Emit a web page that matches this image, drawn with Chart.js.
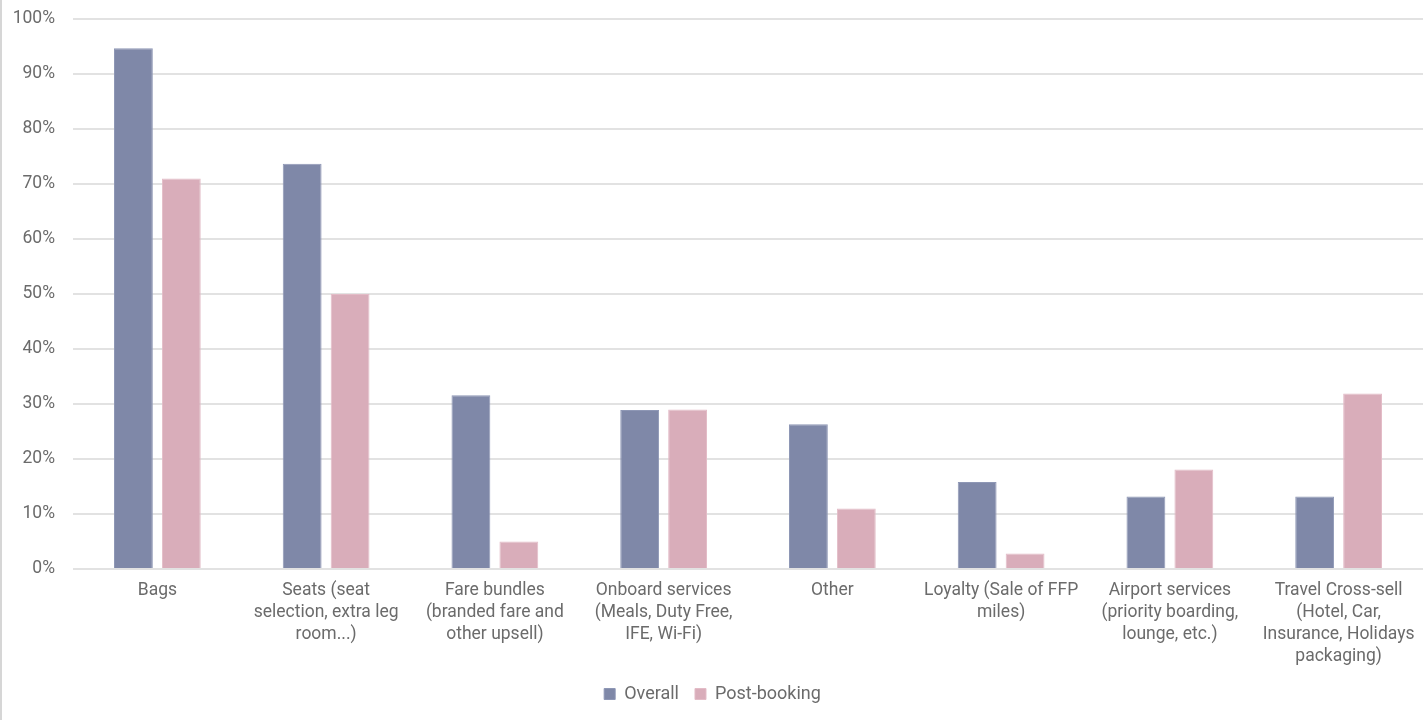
<!DOCTYPE html>
<html>
<head>
<meta charset="utf-8">
<title>Ancillary products</title>
<script src="https://cdn.jsdelivr.net/npm/chart.js@4/dist/chart.umd.min.js"></script>
<style>
  html, body { margin: 0; padding: 0; background: #fff; }
  #wrap { width: 1421px; height: 720px; border-left: 2px solid #d6d6d6; }
</style>
</head>
<body>
<div id="wrap"><canvas id="chart" width="1421" height="720"></canvas></div>
<script>
var categories = [
    ["Bags"],
    ["Seats (seat", "selection, extra leg", "room...)"],
    ["Fare bundles", "(branded fare and", "other upsell)"],
    ["Onboard services", "(Meals, Duty Free,", "IFE, Wi-Fi)"],
    ["Other"],
    ["Loyalty (Sale of FFP", "miles)"],
    ["Airport services", "(priority boarding,", "lounge, etc.)"],
    ["Travel Cross-sell", "(Hotel, Car,", "Insurance, Holidays", "packaging)"]
];
var overall = [94.7, 73.7, 31.6, 28.9, 26.3, 15.8, 13.2, 13.2];
var postBooking = [71.0, 50.0, 5.0, 29.0, 11.0, 2.8, 18.1, 31.9];
var yTicks = [0, 10, 20, 30, 40, 50, 60, 70, 80, 90, 100];

var textColor = "#6b6b6b";
var font = "Roboto, 'Noto Sans', sans-serif";

var ctx = document.getElementById("chart");
var chart = new Chart(ctx, {
    type: "bar",
    data: {
        labels: categories,
        datasets: [
            {
                label: "Overall",
                data: overall,
                backgroundColor: "#7f88a8",
                borderColor: "#8e97b5",
                borderWidth: 1,
                categoryPercentage: 0.568,
                barPercentage: 0.81
            },
            {
                label: "Post-booking",
                data: postBooking,
                backgroundColor: "#d9adba",
                borderColor: "#e3bcc7",
                borderWidth: 1,
                categoryPercentage: 0.568,
                barPercentage: 0.81
            }
        ]
    },
    options: {
        responsive: false,
        animation: false,
        layout: {
            padding: { left: 0, right: 0, top: 0, bottom: 7 }
        },
        plugins: {
            title: { display: false },
            tooltip: { enabled: false },
            legend: {
                position: "bottom",
                labels: {
                    color: textColor,
                    font: { family: font, size: 18 },
                    boxWidth: 11,
                    boxHeight: 11,
                    padding: 16
                }
            }
        },
        scales: {
            x: {
                grid: { display: false, drawTicks: false },
                border: { display: false },
                ticks: {
                    color: textColor,
                    font: { family: font, size: 17.5, lineHeight: "22px" },
                    autoSkip: false,
                    maxRotation: 0,
                    padding: 11
                },
                afterFit: function(scale) {
                    // let the long labels sit closer to the legend,
                    // and let the plot run to the right edge
                    scale.height = scale.height - 10;
                    scale.paddingLeft = 0;
                    scale.paddingRight = 0;
                }
            },
            y: {
                min: 0,
                max: 100,
                afterBuildTicks: function(scale) {
                    scale.ticks = yTicks.map(function(v) { return { value: v }; });
                },
                afterFit: function(scale) {
                    scale.width = 71;
                    scale.paddingTop = 19;
                },
                grid: { color: "#e2e2e2", lineWidth: 2, drawTicks: false },
                border: { display: false },
                ticks: {
                    color: textColor,
                    font: { family: font, size: 17.5 },
                    padding: 18,
                    callback: function(v) { return v + "%"; }
                }
            }
        }
    }
});
</script>
</body>
</html>
